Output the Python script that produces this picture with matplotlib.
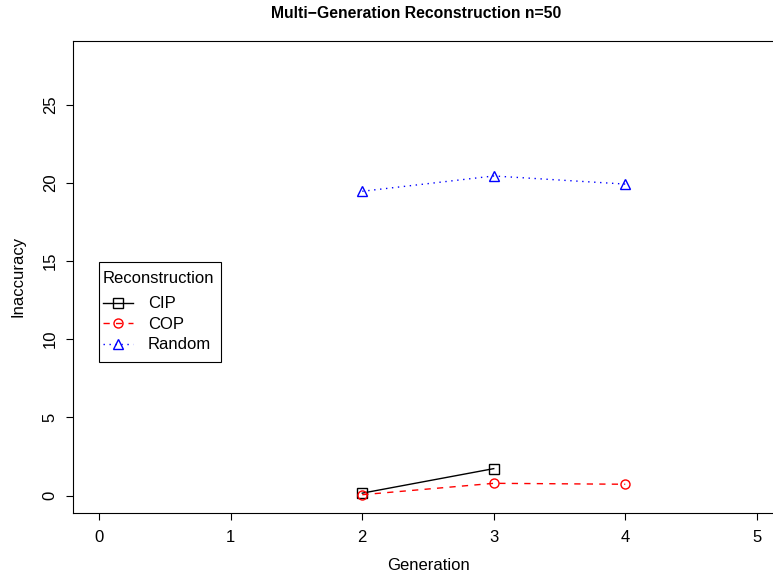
import matplotlib
matplotlib.use("Agg")
import matplotlib.pyplot as plt
from matplotlib.patches import Rectangle

plt.rcParams["font.family"] = ["Liberation Sans", "DejaVu Sans"]

# data
gen_cip = [2, 3]
cip = [0.15, 1.72]
gen_cop = [2, 3, 4]
cop = [0.05, 0.78, 0.72]
gen_rand = [2, 3, 4]
rand = [19.47, 20.45, 19.93]

xticks = [0, 1, 2, 3, 4, 5]
yticks = [0, 5, 10, 15, 20, 25]

W, H = 773, 577
fig = plt.figure(figsize=(W / 100, H / 100), dpi=100)
# plot box: left 73px, right ~783px (runs past the image edge), top 40.5px, bottom 513px
AX_L, AX_B, AX_W, AX_H = 73, 513, 710, 472.5
ax = fig.add_axes([AX_L / W, 1 - AX_B / H, AX_W / W, AX_H / H])

ax.plot(gen_cip, cip, color="black", ls="-", lw=1.0, marker="s",
        ms=6.5, mfc="none", mew=1.0, label="CIP")
ax.plot(gen_cop, cop, color="red", ls=(0, (4.5, 4.5)), lw=1.0, marker="o",
        ms=6.5, mfc="none", mew=1.0, label="COP")
ax.plot(gen_rand, rand, color="blue", ls=(0, (1, 3.3)), lw=1.0, marker="^",
        ms=7.5, mfc="none", mew=1.0, label="Random")

ax.set_xlim(-0.2, 5.2)
ax.set_ylim(-1.12, 29.12)
ax.set_xticks(xticks)
ax.set_yticks(yticks)
ax.tick_params(direction="out", length=5, width=0.8, labelsize=12)
ax.tick_params(axis="x", pad=7)
ax.tick_params(axis="y", pad=6)
plt.setp(ax.get_yticklabels(), rotation=90, va="center")
for s in ax.spines.values():
    s.set_linewidth(0.8)

ax.set_xlabel("Generation", fontsize=12, va="center")
ax.set_ylabel("Inaccuracy", fontsize=12, va="center")
ax.xaxis.set_label_coords(0.5, (AX_B - 566) / AX_H)
ax.yaxis.set_label_coords((18 - AX_L) / AX_W, 0.5)

fig.text(416 / W, 1 - 13 / H, "Multi\u2212Generation Reconstruction n=50",
         ha="center", va="center", fontsize=11.3, fontweight="bold")

# legend box drawn separately (R style: more room at the bottom)
ax.add_patch(Rectangle((99 / W, 1 - 362 / H), 122 / W, 100 / H,
                       transform=fig.transFigure, facecolor="white",
                       edgecolor="black", lw=0.8, zorder=4.9, clip_on=False))
leg = ax.legend(title="Reconstruction", loc="upper left",
                bbox_to_anchor=(103 / W, 1 - 271 / H),
                bbox_transform=fig.transFigure,
                borderaxespad=0, fontsize=12, title_fontsize=12,
                alignment="left", frameon=False,
                handlelength=1.8, handletextpad=0.9,
                labelspacing=0.33, borderpad=0)
leg.set_zorder(5)
leg._legend_box.sep = 7.5

fig.savefig("out.png", dpi=100)
